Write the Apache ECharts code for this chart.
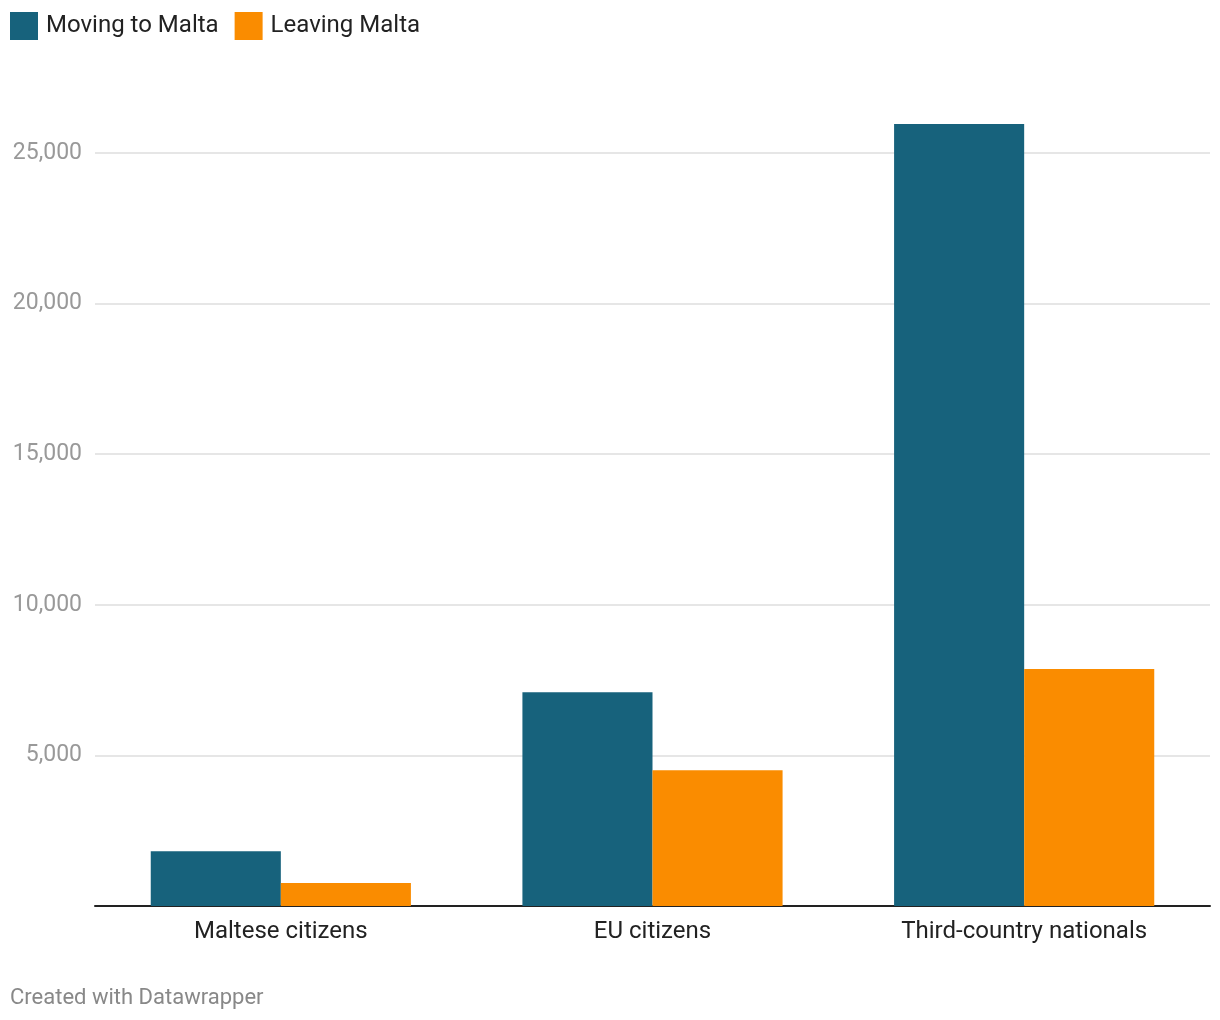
<!DOCTYPE html>
<html>
<head>
<meta charset="utf-8">
<style>
  html, body { margin: 0; padding: 0; background: #fff; }
  #chart { width: 1220px; height: 1020px; }
</style>
<script src="https://cdn.jsdelivr.net/npm/echarts@6/dist/echarts.min.js"></script>
</head>
<body>
<div id="chart"></div>
<script>
const categories = ['Maltese citizens', 'EU citizens', 'Third-country nationals'];
const movingToMalta = [1820, 7100, 25960];
const leavingMalta = [760, 4510, 7870];
const seriesNames = ['Moving to Malta', 'Leaving Malta'];

const chart = echarts.init(document.getElementById('chart'), null, { renderer: 'canvas' });
chart.setOption({
  animation: false,
  textStyle: { fontFamily: 'Roboto' },
  legend: {
    left: 5, top: 7,
    icon: 'rect',
    itemWidth: 28, itemHeight: 28, itemGap: 16,
    textStyle: { fontSize: 24, color: '#222', fontFamily: 'Roboto', padding: [4, 0, 0, 3] },
    data: seriesNames
  },
  grid: { left: 95, right: 10, top: 153, bottom: 114, containLabel: false },
  xAxis: {
    type: 'category',
    data: categories,
    axisLine: { show: true, lineStyle: { color: '#222', width: 2 } },
    axisTick: { show: false },
    axisLabel: { fontSize: 24, color: '#222', margin: 14, fontFamily: 'Roboto' }
  },
  yAxis: {
    type: 'value',
    min: 0, max: 25000, interval: 5000,
    axisLine: { show: false },
    axisTick: { show: false },
    axisLabel: {
      fontSize: 23, color: '#999', margin: 13, fontFamily: 'Roboto',
      padding: [4, 0, 0, 0],
      showMinLabel: false,
      formatter: v => v === 0 ? '' : v.toLocaleString('en-US')
    },
    splitLine: { lineStyle: { color: '#e6e6e6', width: 2 } }
  },
  series: [
    {
      name: seriesNames[0], type: 'bar', data: movingToMalta,
      itemStyle: { color: '#17627c' },
      barGap: '0%', barCategoryGap: '30%', clip: false
    },
    {
      name: seriesNames[1], type: 'bar', data: leavingMalta,
      itemStyle: { color: '#fa8c00' },
      barGap: '0%', barCategoryGap: '30%', clip: false
    }
  ],
  graphic: [
    {
      type: 'text', left: 10, top: 987,
      style: { text: 'Created with Datawrapper', fontSize: 22, fill: '#888', fontFamily: 'Roboto' }
    }
  ]
});
</script>
</body>
</html>
